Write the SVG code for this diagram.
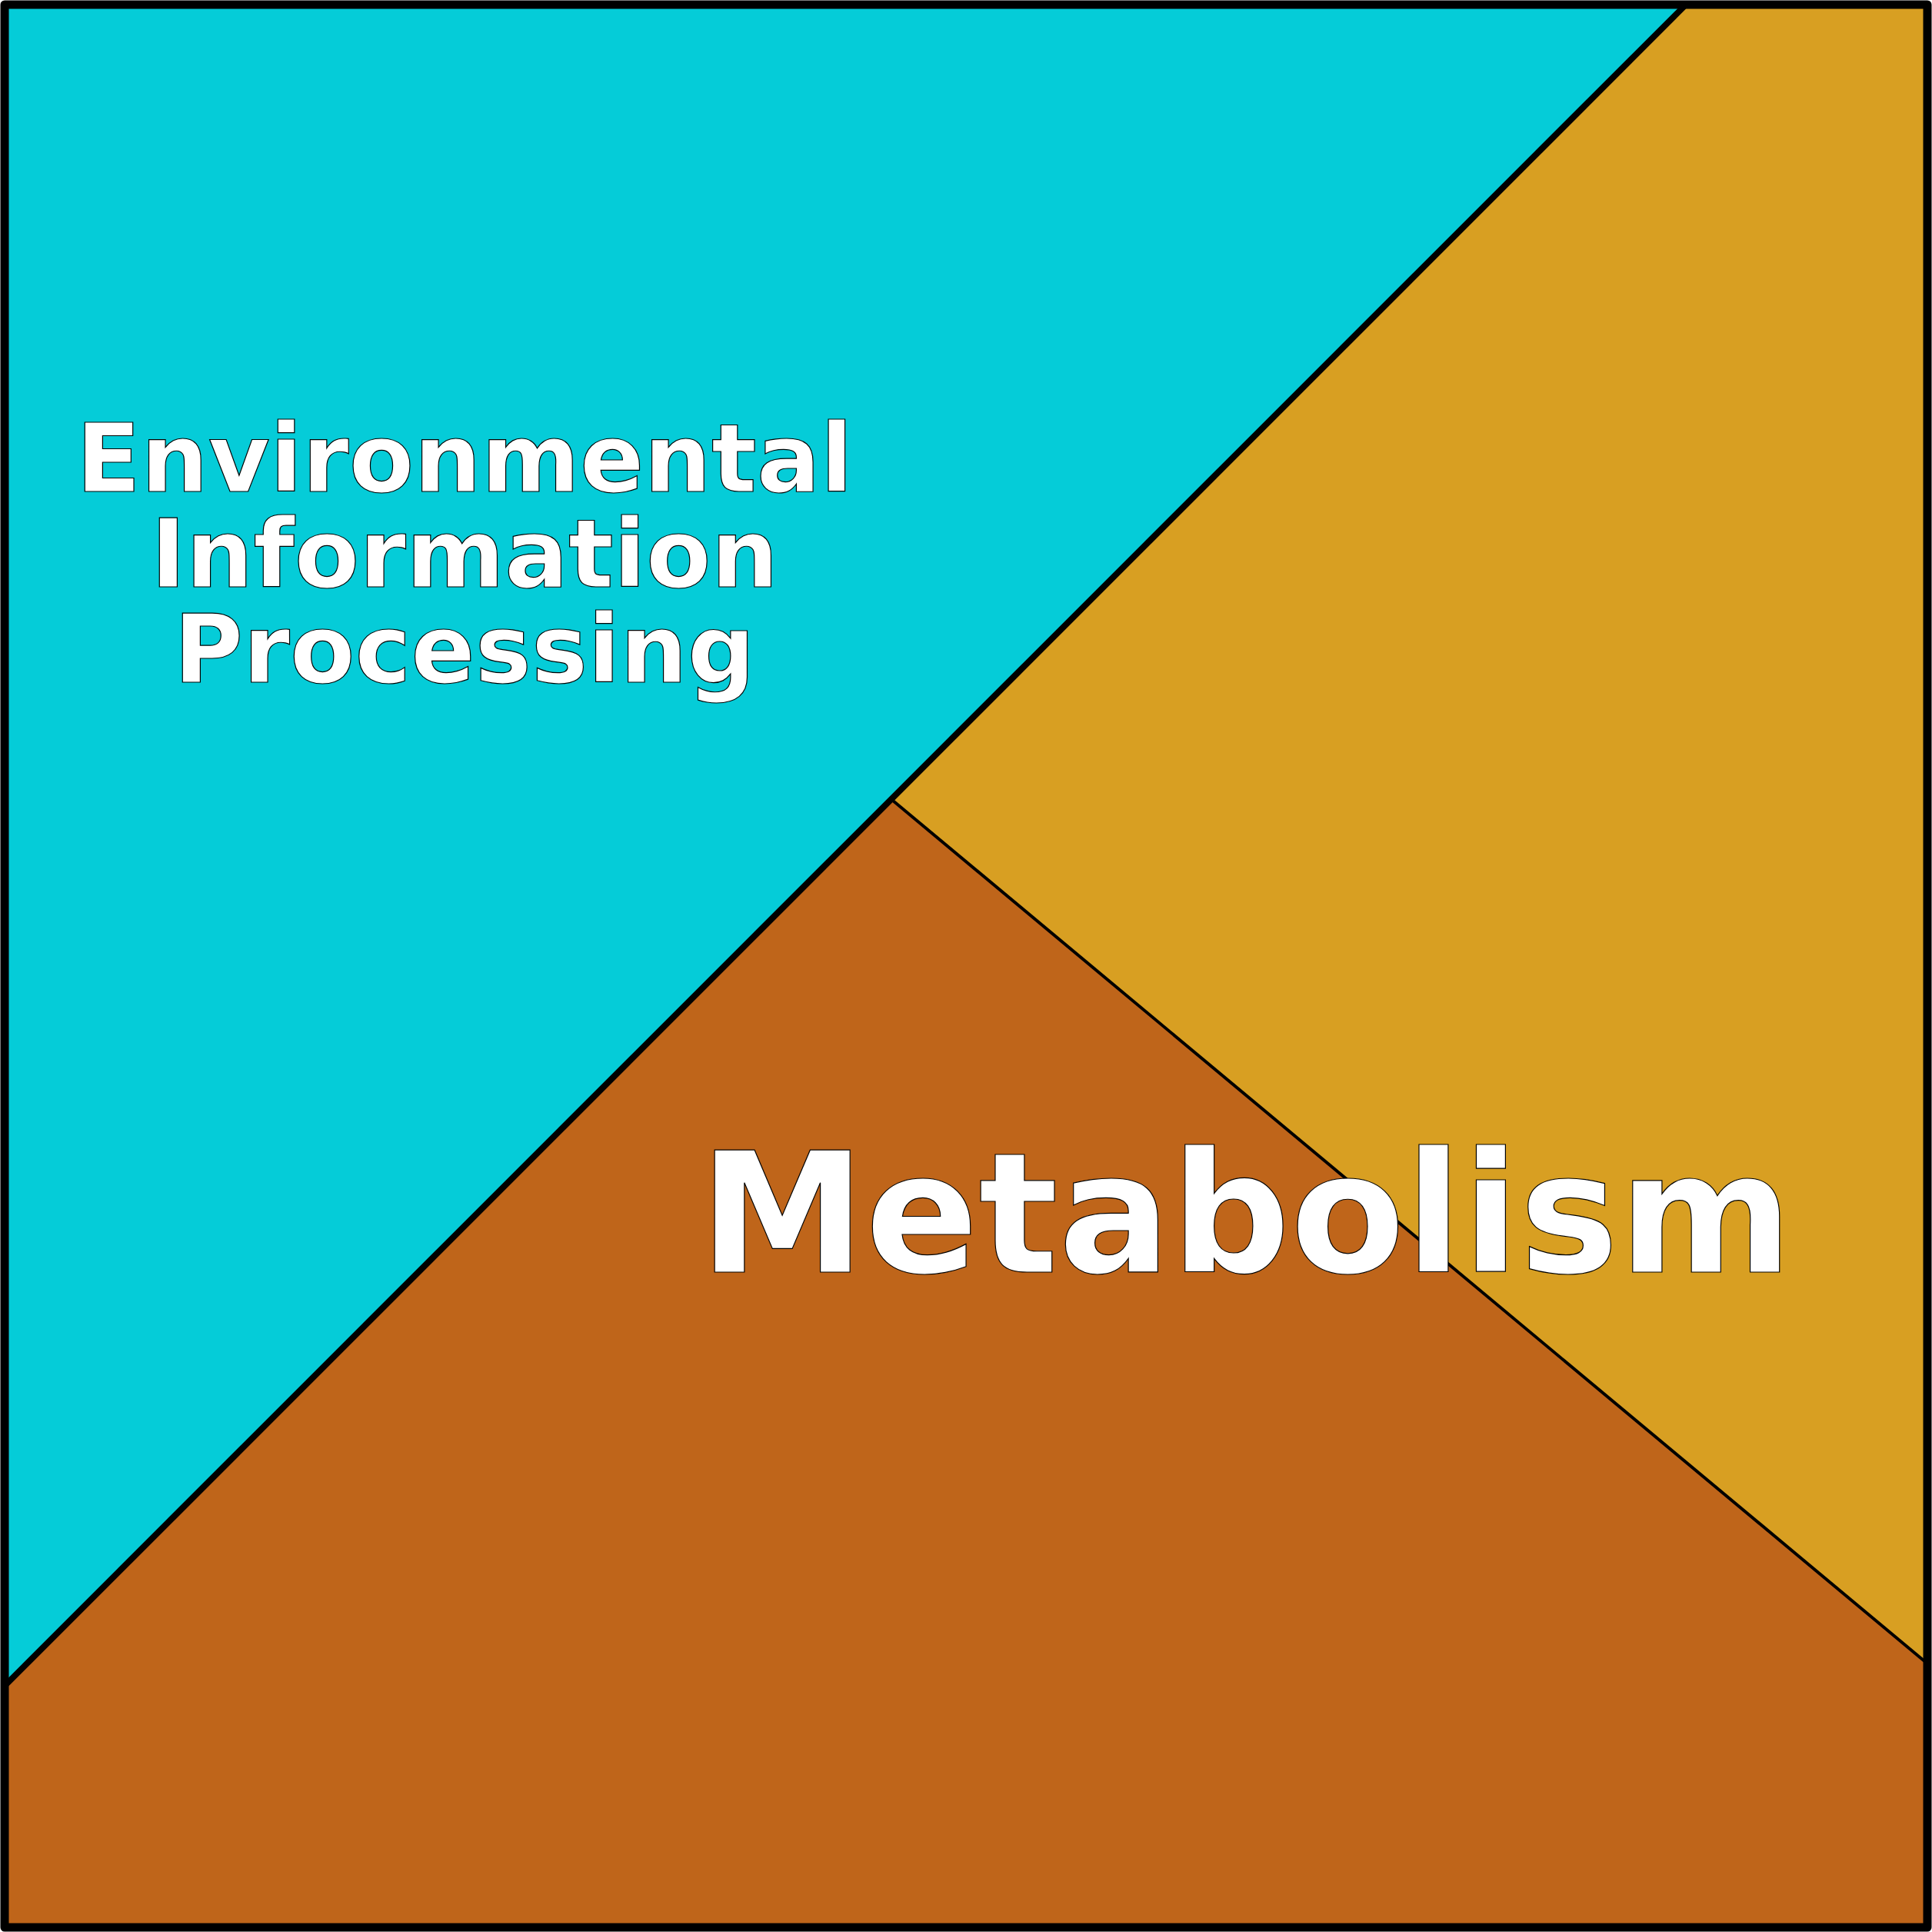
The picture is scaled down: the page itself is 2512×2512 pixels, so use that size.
<svg xmlns="http://www.w3.org/2000/svg" width="2512" height="2512" viewBox="0 0 2512 2512">
<style>
.lbl{font-family:"DejaVu Sans","Liberation Sans",sans-serif;font-weight:bold;fill:#ffffff;stroke:#000000;stroke-width:1.2;text-anchor:middle}
.edge{stroke:#000000;fill:none;stroke-linecap:butt}
</style>
<g id="env">
<polygon points="6,6 2188,6 6,2194" fill="#05CCD8"/>
<text class="lbl" font-size="123"><tspan x="604" y="639">Environmental</tspan><tspan x="604" y="763">Information</tspan><tspan x="604" y="887">Processing</tspan></text>
</g>
<g id="gold">
<polygon points="2188,6 2506,6 2506,2163 1161,1041" fill="#D89F22"/>
</g>
<g id="metabolism">
<polygon points="6,2194 1161,1041 2506,2163 2506,2506 6,2506" fill="#BF651A"/>
</g>
<g id="connectors">
<line class="edge" x1="2192" y1="6" x2="6" y2="2192" stroke-width="8"/>
<line class="edge" x1="1161" y1="1041" x2="2506" y2="2163" stroke-width="4"/>
</g>
<text class="lbl" font-size="217" x="1620" y="1654">Metabolism</text>
<rect x="6" y="6" width="2500" height="2500" fill="none" stroke="#000000" stroke-width="11" stroke-linejoin="round"/>
</svg>
